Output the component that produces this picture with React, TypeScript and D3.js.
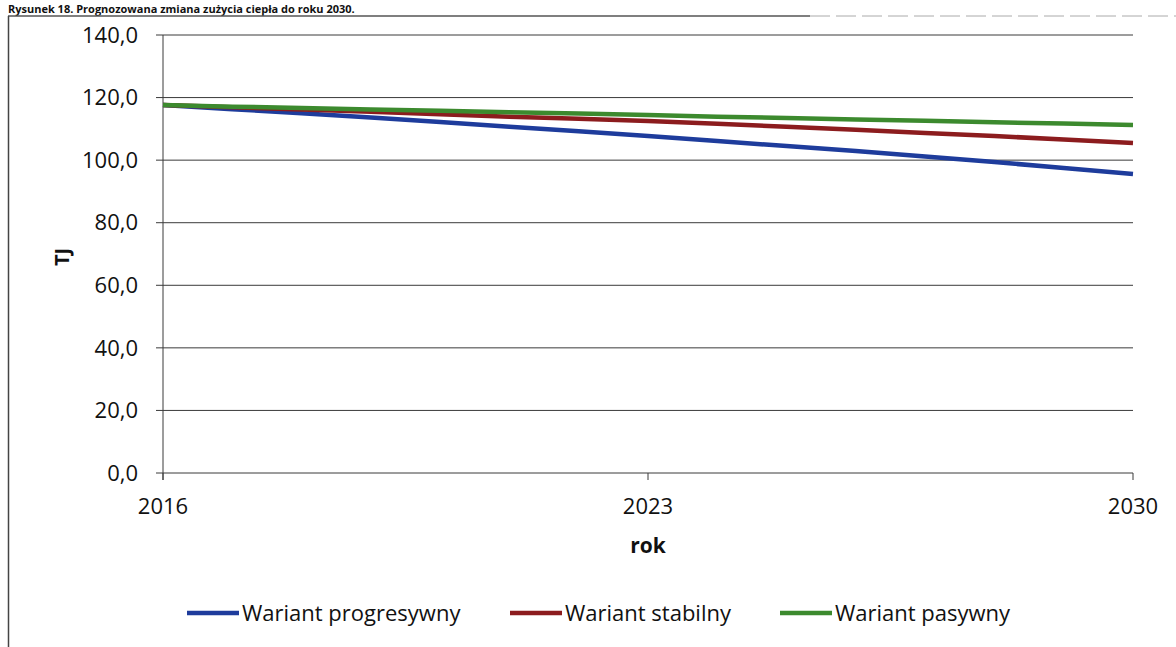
import React from "react";
import * as d3 from "d3";

const years = [2016, 2017, 2018, 2019, 2020, 2021, 2022, 2023, 2024, 2025, 2026, 2027, 2028, 2029, 2030];
const progresywny = [117.6, 116.3, 115.0, 113.6, 112.2, 110.7, 109.2, 107.7, 106.1, 104.5, 102.9, 101.2, 99.4, 97.5, 95.6];
const stabilny = [117.6, 116.9, 116.2, 115.5, 114.7, 113.9, 113.2, 112.5, 111.6, 110.7, 109.7, 108.7, 107.7, 106.6, 105.5];
const pasywny = [117.6, 117.1, 116.7, 116.2, 115.8, 115.3, 114.9, 114.4, 113.9, 113.5, 113.0, 112.6, 112.1, 111.7, 111.2];
const yTicks = [0, 20, 40, 60, 80, 100, 120, 140];
const xTicks = [2016, 2023, 2030];
const seriesNames = ["Wariant progresywny", "Wariant stabilny", "Wariant pasywny"];
const seriesColors = ["#1e3c9c", "#8c1c1e", "#3c8a2e"];
const title = "Rysunek 18. Prognozowana zmiana zużycia ciepła do roku 2030.";

const W = 1176;
const H = 647;
const left = 163;
const right = 1133;
const top = 35;
const bottom = 473;
const font = "'Open Sans', 'Noto Sans', sans-serif";

export default function App() {
  const x = d3.scaleLinear().domain([2016, 2030]).range([left, right]);
  const y = d3.scaleLinear().domain([0, 140]).range([bottom, top]);
  const line = d3
    .line<number>()
    .x((_, i) => x(years[i]))
    .y((d) => y(d));
  const series = [progresywny, stabilny, pasywny];
  const fmt = (v: number) => v.toFixed(1).replace(".", ",");
  const legendX = [187, 510, 780];

  return (
    <svg
      width={W}
      height={H}
      style={{ position: "absolute", left: 0, top: 0, background: "#fff" }}
      fontFamily={font}
    >
      <rect x={0} y={0} width={W} height={H} fill="#fff" />
      <text x={8} y={12.5} fontSize={11} fontWeight="bold" fill="#111">
        {title}
      </text>
      <line x1={8} x2={810} y1={16} y2={16} stroke="#555" strokeWidth={1.5} />
      <line x1={810} x2={1176} y1={16} y2={16} stroke="#aaa" strokeWidth={1} strokeDasharray="20 6" />
      <line x1={8.5} x2={8.5} y1={16} y2={H} stroke="#444" strokeWidth={1.5} />

      {yTicks.map((t) => (
        <g key={t}>
          <line x1={left - 7} x2={right} y1={y(t)} y2={y(t)} stroke="#3a3a3a" strokeWidth={1} />
          <text x={138} y={y(t)} dy="0.35em" textAnchor="end" fontSize={22} fill="#111">
            {fmt(t)}
          </text>
        </g>
      ))}
      <line x1={left} x2={left} y1={top} y2={bottom + 7} stroke="#3a3a3a" strokeWidth={1} />
      {xTicks.map((t) => (
        <g key={t}>
          <line x1={x(t)} x2={x(t)} y1={bottom} y2={bottom + 7} stroke="#3a3a3a" strokeWidth={1} />
          <text x={x(t)} y={514} textAnchor="middle" fontSize={22} fill="#111">
            {t}
          </text>
        </g>
      ))}
      <text x={(left + right) / 2} y={553} textAnchor="middle" fontSize={21} fontWeight="bold" fill="#111">
        rok
      </text>
      <text
        transform={`translate(69,257) rotate(-90)`}
        textAnchor="middle"
        fontSize={20}
        fontWeight="bold"
        fill="#111"
      >
        TJ
      </text>

      {series.map((s, i) => (
        <path key={i} d={line(s) || ""} fill="none" stroke={seriesColors[i]} strokeWidth={4.5} />
      ))}

      {seriesNames.map((n, i) => (
        <g key={n}>
          <line x1={legendX[i]} x2={legendX[i] + 52} y1={613} y2={613} stroke={seriesColors[i]} strokeWidth={4.5} />
          <text x={legendX[i] + 55} y={613} dy="0.35em" fontSize={22} fill="#111">
            {n}
          </text>
        </g>
      ))}
    </svg>
  );
}
